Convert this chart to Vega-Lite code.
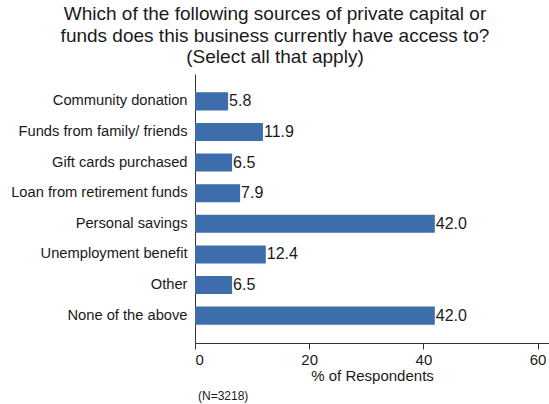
{
  "$schema": "https://vega.github.io/schema/vega-lite/v6.json",
  "autosize": {"type": "pad"},
  "padding": {"left": 10, "top": 5, "right": 0, "bottom": 2},
  "background": "white",
  "title": {
    "text": ["Which of the following sources of private capital or", "funds does this business currently have access to?", "(Select all that apply)"],
    "font": "Liberation Sans",
    "fontSize": 19,
    "fontWeight": "normal",
    "color": "#1a1a1a",
    "lineHeight": 21.5,
    "anchor": "middle",
    "frame": "group",
    "dx": -97,
    "offset": 7
  },
  "config": {
    "view": {"stroke": null},
    "concat": {"spacing": 0},
    "font": "Liberation Sans"
  },
  "vconcat": [
    {
      "width": 354,
      "height": 269,
      "title": {
        "text": "(N=3218)",
        "orient": "bottom",
        "anchor": "start",
        "frame": "group",
        "font": "Liberation Sans",
        "fontSize": 12,
        "fontWeight": "normal",
        "color": "#1a1a1a",
        "offset": 8,
        "dx": 3
      },
      "data": {
        "values": [
          {"source": "Community donation", "pct": 5.8},
          {"source": "Funds from family/ friends", "pct": 11.9},
          {"source": "Gift cards purchased", "pct": 6.5},
          {"source": "Loan from retirement funds", "pct": 7.9},
          {"source": "Personal savings", "pct": 42.0},
          {"source": "Unemployment benefit", "pct": 12.4},
          {"source": "Other", "pct": 6.5},
          {"source": "None of the above", "pct": 42.0}
        ]
      },
      "encoding": {
        "y": {
          "field": "source",
          "type": "nominal",
          "sort": null,
          "scale": {"paddingInner": 0.41, "paddingOuter": 0.6},
          "axis": {
            "title": null,
            "ticks": false,
            "labelPadding": 8,
            "labelFont": "Liberation Sans",
            "labelFontSize": 14.7,
            "labelColor": "#1a1a1a",
            "labelLimit": 300,
            "domainColor": "#333333",
            "domainWidth": 1
          }
        },
        "x": {
          "field": "pct",
          "type": "quantitative",
          "scale": {"domain": [0, 62], "nice": false},
          "axis": {
            "values": [0, 20, 40, 60],
            "grid": false,
            "title": "% of Respondents",
            "titleFont": "Liberation Sans",
            "titleFontSize": 15,
            "titleFontWeight": "normal",
            "titleColor": "#1a1a1a",
            "titlePadding": 1,
            "labelFont": "Liberation Sans",
            "labelFontSize": 15,
            "labelColor": "#1a1a1a",
            "labelPadding": 3,
            "tickSize": 6,
            "tickColor": "#333333",
            "domainColor": "#333333"
          }
        }
      },
      "layer": [
        {"mark": {"type": "bar", "color": "#3d6eab"}},
        {
          "mark": {"type": "text", "align": "left", "baseline": "middle", "dx": 1, "font": "Liberation Sans", "fontSize": 16, "color": "#1a1a1a"},
          "encoding": {"text": {"field": "pct", "type": "quantitative", "format": ".1f"}}
        }
      ]
    }
  ]
}
